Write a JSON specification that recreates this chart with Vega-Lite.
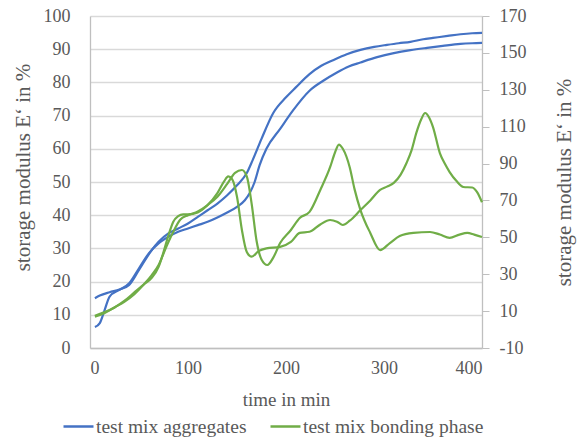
{
  "$schema": "https://vega.github.io/schema/vega-lite/v6.json",
  "width": 392,
  "height": 332,
  "autosize": {"type": "none"},
  "padding": {"left": 90, "top": 16, "right": 96, "bottom": 93},
  "config": {
    "view": {"stroke": null},
    "font": "Liberation Serif",
    "axis": {
      "labelFont": "Liberation Serif",
      "titleFont": "Liberation Serif",
      "labelFontSize": 18,
      "titleFontSize": 19,
      "labelColor": "#595959",
      "titleColor": "#595959",
      "titleFontWeight": "normal",
      "gridColor": "#D9D9D9",
      "gridWidth": 1.3,
      "domainColor": "#BFBFBF",
      "domainWidth": 1.3,
      "tickColor": "#BFBFBF"
    },
    "legend": {
      "labelFont": "Liberation Serif",
      "labelFontSize": 19.5,
      "labelColor": "#595959",
      "labelLimit": 400
    }
  },
  "datasets": {
    "agg": [
      {"t": 5, "v": 15, "mix": "test mix aggregates", "run": 1},
      {"t": 10, "v": 15.8, "mix": "test mix aggregates", "run": 1},
      {"t": 20, "v": 16.8, "mix": "test mix aggregates", "run": 1},
      {"t": 30, "v": 17.6, "mix": "test mix aggregates", "run": 1},
      {"t": 40, "v": 19, "mix": "test mix aggregates", "run": 1},
      {"t": 50, "v": 23.5, "mix": "test mix aggregates", "run": 1},
      {"t": 63, "v": 29.5, "mix": "test mix aggregates", "run": 1},
      {"t": 70, "v": 32, "mix": "test mix aggregates", "run": 1},
      {"t": 80, "v": 34.5, "mix": "test mix aggregates", "run": 1},
      {"t": 90, "v": 36, "mix": "test mix aggregates", "run": 1},
      {"t": 100, "v": 37.5, "mix": "test mix aggregates", "run": 1},
      {"t": 110, "v": 39.5, "mix": "test mix aggregates", "run": 1},
      {"t": 120, "v": 41.5, "mix": "test mix aggregates", "run": 1},
      {"t": 130, "v": 43.5, "mix": "test mix aggregates", "run": 1},
      {"t": 140, "v": 46, "mix": "test mix aggregates", "run": 1},
      {"t": 150, "v": 49, "mix": "test mix aggregates", "run": 1},
      {"t": 160, "v": 52.7, "mix": "test mix aggregates", "run": 1},
      {"t": 166, "v": 56.6, "mix": "test mix aggregates", "run": 1},
      {"t": 175, "v": 63, "mix": "test mix aggregates", "run": 1},
      {"t": 187, "v": 70.8, "mix": "test mix aggregates", "run": 1},
      {"t": 200, "v": 75.5, "mix": "test mix aggregates", "run": 1},
      {"t": 210, "v": 78.5, "mix": "test mix aggregates", "run": 1},
      {"t": 224, "v": 82.5, "mix": "test mix aggregates", "run": 1},
      {"t": 236, "v": 85, "mix": "test mix aggregates", "run": 1},
      {"t": 248, "v": 86.7, "mix": "test mix aggregates", "run": 1},
      {"t": 262, "v": 88.5, "mix": "test mix aggregates", "run": 1},
      {"t": 276, "v": 89.8, "mix": "test mix aggregates", "run": 1},
      {"t": 290, "v": 90.7, "mix": "test mix aggregates", "run": 1},
      {"t": 303, "v": 91.3, "mix": "test mix aggregates", "run": 1},
      {"t": 315, "v": 91.8, "mix": "test mix aggregates", "run": 1},
      {"t": 327, "v": 92.2, "mix": "test mix aggregates", "run": 1},
      {"t": 340, "v": 93, "mix": "test mix aggregates", "run": 1},
      {"t": 350, "v": 93.4, "mix": "test mix aggregates", "run": 1},
      {"t": 365, "v": 94, "mix": "test mix aggregates", "run": 1},
      {"t": 378, "v": 94.5, "mix": "test mix aggregates", "run": 1},
      {"t": 390, "v": 94.8, "mix": "test mix aggregates", "run": 1},
      {"t": 400, "v": 94.9, "mix": "test mix aggregates", "run": 1},
      {"t": 5, "v": 6.3, "mix": "test mix aggregates", "run": 2},
      {"t": 10, "v": 7.5, "mix": "test mix aggregates", "run": 2},
      {"t": 15, "v": 11.5, "mix": "test mix aggregates", "run": 2},
      {"t": 20, "v": 15.5, "mix": "test mix aggregates", "run": 2},
      {"t": 30, "v": 17.5, "mix": "test mix aggregates", "run": 2},
      {"t": 40, "v": 19.5, "mix": "test mix aggregates", "run": 2},
      {"t": 50, "v": 24, "mix": "test mix aggregates", "run": 2},
      {"t": 60, "v": 28.5, "mix": "test mix aggregates", "run": 2},
      {"t": 70, "v": 31.5, "mix": "test mix aggregates", "run": 2},
      {"t": 80, "v": 33.5, "mix": "test mix aggregates", "run": 2},
      {"t": 90, "v": 35, "mix": "test mix aggregates", "run": 2},
      {"t": 100, "v": 36, "mix": "test mix aggregates", "run": 2},
      {"t": 110, "v": 37, "mix": "test mix aggregates", "run": 2},
      {"t": 120, "v": 38, "mix": "test mix aggregates", "run": 2},
      {"t": 130, "v": 39.3, "mix": "test mix aggregates", "run": 2},
      {"t": 140, "v": 40.8, "mix": "test mix aggregates", "run": 2},
      {"t": 150, "v": 42.5, "mix": "test mix aggregates", "run": 2},
      {"t": 158, "v": 44.5, "mix": "test mix aggregates", "run": 2},
      {"t": 163, "v": 46.7, "mix": "test mix aggregates", "run": 2},
      {"t": 168, "v": 50, "mix": "test mix aggregates", "run": 2},
      {"t": 173, "v": 55, "mix": "test mix aggregates", "run": 2},
      {"t": 180, "v": 60, "mix": "test mix aggregates", "run": 2},
      {"t": 194, "v": 66, "mix": "test mix aggregates", "run": 2},
      {"t": 207, "v": 71.5, "mix": "test mix aggregates", "run": 2},
      {"t": 224, "v": 77.5, "mix": "test mix aggregates", "run": 2},
      {"t": 238, "v": 80.5, "mix": "test mix aggregates", "run": 2},
      {"t": 252, "v": 83, "mix": "test mix aggregates", "run": 2},
      {"t": 264, "v": 84.8, "mix": "test mix aggregates", "run": 2},
      {"t": 276, "v": 86, "mix": "test mix aggregates", "run": 2},
      {"t": 293, "v": 87.6, "mix": "test mix aggregates", "run": 2},
      {"t": 310, "v": 88.8, "mix": "test mix aggregates", "run": 2},
      {"t": 327, "v": 89.7, "mix": "test mix aggregates", "run": 2},
      {"t": 344, "v": 90.4, "mix": "test mix aggregates", "run": 2},
      {"t": 360, "v": 91, "mix": "test mix aggregates", "run": 2},
      {"t": 378, "v": 91.6, "mix": "test mix aggregates", "run": 2},
      {"t": 390, "v": 91.8, "mix": "test mix aggregates", "run": 2},
      {"t": 400, "v": 91.9, "mix": "test mix aggregates", "run": 2}
    ],
    "bond": [
      {"t": 5, "v": 7.5, "mix": "test mix bonding phase", "run": 1},
      {"t": 15, "v": 9.5, "mix": "test mix bonding phase", "run": 1},
      {"t": 25, "v": 12, "mix": "test mix bonding phase", "run": 1},
      {"t": 35, "v": 15.5, "mix": "test mix bonding phase", "run": 1},
      {"t": 45, "v": 20, "mix": "test mix bonding phase", "run": 1},
      {"t": 55, "v": 24.5, "mix": "test mix bonding phase", "run": 1},
      {"t": 63, "v": 28, "mix": "test mix bonding phase", "run": 1},
      {"t": 70, "v": 34, "mix": "test mix bonding phase", "run": 1},
      {"t": 75, "v": 42, "mix": "test mix bonding phase", "run": 1},
      {"t": 80, "v": 51, "mix": "test mix bonding phase", "run": 1},
      {"t": 85, "v": 58.5, "mix": "test mix bonding phase", "run": 1},
      {"t": 90, "v": 61.5, "mix": "test mix bonding phase", "run": 1},
      {"t": 95, "v": 62.5, "mix": "test mix bonding phase", "run": 1},
      {"t": 100, "v": 62.5, "mix": "test mix bonding phase", "run": 1},
      {"t": 110, "v": 63.5, "mix": "test mix bonding phase", "run": 1},
      {"t": 120, "v": 67.5, "mix": "test mix bonding phase", "run": 1},
      {"t": 130, "v": 74, "mix": "test mix bonding phase", "run": 1},
      {"t": 137, "v": 80.5, "mix": "test mix bonding phase", "run": 1},
      {"t": 141, "v": 83, "mix": "test mix bonding phase", "run": 1},
      {"t": 145, "v": 81.5, "mix": "test mix bonding phase", "run": 1},
      {"t": 150, "v": 72, "mix": "test mix bonding phase", "run": 1},
      {"t": 155, "v": 54, "mix": "test mix bonding phase", "run": 1},
      {"t": 160, "v": 42, "mix": "test mix bonding phase", "run": 1},
      {"t": 165, "v": 39.5, "mix": "test mix bonding phase", "run": 1},
      {"t": 172, "v": 42.5, "mix": "test mix bonding phase", "run": 1},
      {"t": 180, "v": 44, "mix": "test mix bonding phase", "run": 1},
      {"t": 194, "v": 44.8, "mix": "test mix bonding phase", "run": 1},
      {"t": 205, "v": 47.5, "mix": "test mix bonding phase", "run": 1},
      {"t": 214, "v": 52.4, "mix": "test mix bonding phase", "run": 1},
      {"t": 224, "v": 53, "mix": "test mix bonding phase", "run": 1},
      {"t": 235, "v": 57, "mix": "test mix bonding phase", "run": 1},
      {"t": 245, "v": 59.4, "mix": "test mix bonding phase", "run": 1},
      {"t": 252, "v": 58.5, "mix": "test mix bonding phase", "run": 1},
      {"t": 258, "v": 56.7, "mix": "test mix bonding phase", "run": 1},
      {"t": 265, "v": 59, "mix": "test mix bonding phase", "run": 1},
      {"t": 276, "v": 64.8, "mix": "test mix bonding phase", "run": 1},
      {"t": 286, "v": 70, "mix": "test mix bonding phase", "run": 1},
      {"t": 296, "v": 75.7, "mix": "test mix bonding phase", "run": 1},
      {"t": 303, "v": 77.5, "mix": "test mix bonding phase", "run": 1},
      {"t": 310, "v": 79.5, "mix": "test mix bonding phase", "run": 1},
      {"t": 317, "v": 84, "mix": "test mix bonding phase", "run": 1},
      {"t": 323, "v": 90.3, "mix": "test mix bonding phase", "run": 1},
      {"t": 328, "v": 97, "mix": "test mix bonding phase", "run": 1},
      {"t": 333, "v": 106.6, "mix": "test mix bonding phase", "run": 1},
      {"t": 338, "v": 114, "mix": "test mix bonding phase", "run": 1},
      {"t": 342, "v": 117.4, "mix": "test mix bonding phase", "run": 1},
      {"t": 346, "v": 115, "mix": "test mix bonding phase", "run": 1},
      {"t": 350, "v": 109.8, "mix": "test mix bonding phase", "run": 1},
      {"t": 357, "v": 95.7, "mix": "test mix bonding phase", "run": 1},
      {"t": 362, "v": 90, "mix": "test mix bonding phase", "run": 1},
      {"t": 367, "v": 85.4, "mix": "test mix bonding phase", "run": 1},
      {"t": 374, "v": 80.5, "mix": "test mix bonding phase", "run": 1},
      {"t": 381, "v": 77.3, "mix": "test mix bonding phase", "run": 1},
      {"t": 390, "v": 77, "mix": "test mix bonding phase", "run": 1},
      {"t": 395, "v": 74.5, "mix": "test mix bonding phase", "run": 1},
      {"t": 400, "v": 69, "mix": "test mix bonding phase", "run": 1},
      {"t": 5, "v": 7, "mix": "test mix bonding phase", "run": 2},
      {"t": 15, "v": 9, "mix": "test mix bonding phase", "run": 2},
      {"t": 25, "v": 12, "mix": "test mix bonding phase", "run": 2},
      {"t": 35, "v": 15, "mix": "test mix bonding phase", "run": 2},
      {"t": 45, "v": 19, "mix": "test mix bonding phase", "run": 2},
      {"t": 55, "v": 24.5, "mix": "test mix bonding phase", "run": 2},
      {"t": 63, "v": 29.5, "mix": "test mix bonding phase", "run": 2},
      {"t": 70, "v": 35, "mix": "test mix bonding phase", "run": 2},
      {"t": 78, "v": 45, "mix": "test mix bonding phase", "run": 2},
      {"t": 85, "v": 53, "mix": "test mix bonding phase", "run": 2},
      {"t": 92, "v": 59.5, "mix": "test mix bonding phase", "run": 2},
      {"t": 100, "v": 62, "mix": "test mix bonding phase", "run": 2},
      {"t": 110, "v": 64, "mix": "test mix bonding phase", "run": 2},
      {"t": 120, "v": 67.5, "mix": "test mix bonding phase", "run": 2},
      {"t": 130, "v": 72, "mix": "test mix bonding phase", "run": 2},
      {"t": 140, "v": 79, "mix": "test mix bonding phase", "run": 2},
      {"t": 148, "v": 85, "mix": "test mix bonding phase", "run": 2},
      {"t": 155, "v": 86.5, "mix": "test mix bonding phase", "run": 2},
      {"t": 160, "v": 83, "mix": "test mix bonding phase", "run": 2},
      {"t": 165, "v": 68, "mix": "test mix bonding phase", "run": 2},
      {"t": 170, "v": 48, "mix": "test mix bonding phase", "run": 2},
      {"t": 175, "v": 38, "mix": "test mix bonding phase", "run": 2},
      {"t": 181, "v": 35, "mix": "test mix bonding phase", "run": 2},
      {"t": 187, "v": 39, "mix": "test mix bonding phase", "run": 2},
      {"t": 194, "v": 46.9, "mix": "test mix bonding phase", "run": 2},
      {"t": 205, "v": 54, "mix": "test mix bonding phase", "run": 2},
      {"t": 214, "v": 60.5, "mix": "test mix bonding phase", "run": 2},
      {"t": 224, "v": 63.8, "mix": "test mix bonding phase", "run": 2},
      {"t": 235, "v": 75.7, "mix": "test mix bonding phase", "run": 2},
      {"t": 245, "v": 88, "mix": "test mix bonding phase", "run": 2},
      {"t": 250, "v": 96, "mix": "test mix bonding phase", "run": 2},
      {"t": 254, "v": 100.3, "mix": "test mix bonding phase", "run": 2},
      {"t": 258, "v": 98, "mix": "test mix bonding phase", "run": 2},
      {"t": 265, "v": 88, "mix": "test mix bonding phase", "run": 2},
      {"t": 270, "v": 76, "mix": "test mix bonding phase", "run": 2},
      {"t": 276, "v": 64.8, "mix": "test mix bonding phase", "run": 2},
      {"t": 286, "v": 52.4, "mix": "test mix bonding phase", "run": 2},
      {"t": 296, "v": 43.1, "mix": "test mix bonding phase", "run": 2},
      {"t": 306, "v": 46.9, "mix": "test mix bonding phase", "run": 2},
      {"t": 316, "v": 50.7, "mix": "test mix bonding phase", "run": 2},
      {"t": 330, "v": 52.4, "mix": "test mix bonding phase", "run": 2},
      {"t": 347, "v": 52.9, "mix": "test mix bonding phase", "run": 2},
      {"t": 357, "v": 51.5, "mix": "test mix bonding phase", "run": 2},
      {"t": 367, "v": 49.7, "mix": "test mix bonding phase", "run": 2},
      {"t": 377, "v": 51.5, "mix": "test mix bonding phase", "run": 2},
      {"t": 385, "v": 52.4, "mix": "test mix bonding phase", "run": 2},
      {"t": 392, "v": 51.5, "mix": "test mix bonding phase", "run": 2},
      {"t": 400, "v": 50.2, "mix": "test mix bonding phase", "run": 2}
    ]
  },
  "encoding": {
    "x": {
      "field": "t",
      "type": "quantitative",
      "scale": {"domain": [0, 400], "nice": false},
      "axis": {
        "title": "time in min",
        "values": [0, 100, 200, 300, 400],
        "grid": false,
        "ticks": false,
        "labelFont": "Liberation Serif",
        "labelFontSize": 18,
        "labelPadding": 11,
        "titlePadding": 13
      }
    },
    "color": {
      "field": "mix",
      "type": "nominal",
      "scale": {
        "domain": ["test mix aggregates", "test mix bonding phase"],
        "range": ["#4472C4", "#70AD47"]
      },
      "legend": {
        "title": null,
        "orient": "none",
        "legendX": -28,
        "legendY": 394,
        "direction": "horizontal",
        "symbolType": "stroke",
        "symbolSize": 900,
        "symbolStrokeWidth": 2.5,
        "labelFont": "Liberation Serif",
        "labelFontSize": 19.5,
        "labelLimit": 400,
        "labelOffset": 1,
        "columnPadding": 18
      }
    },
    "detail": {"field": "run", "type": "nominal"}
  },
  "layer": [
    {
      "data": {"name": "agg"},
      "mark": {"type": "line", "interpolate": "monotone", "strokeWidth": 2.2},
      "encoding": {
        "y": {
          "field": "v",
          "type": "quantitative",
          "scale": {"domain": [0, 100], "nice": false},
          "axis": {
            "title": "storage modulus E‘ in %",
            "orient": "left",
            "values": [0, 10, 20, 30, 40, 50, 60, 70, 80, 90, 100],
            "ticks": false,
            "labelFont": "Liberation Serif",
            "labelFontSize": 18,
            "labelPadding": 20,
            "titleFontSize": 21,
            "titlePadding": 10,
            "titleY": 151
          }
        }
      }
    },
    {
      "data": {"name": "bond"},
      "mark": {"type": "line", "interpolate": "monotone", "strokeWidth": 2.2},
      "encoding": {
        "y": {
          "field": "v",
          "type": "quantitative",
          "scale": {"domain": [-10, 170], "nice": false},
          "axis": {
            "title": "storage modulus E‘ in %",
            "orient": "right",
            "values": [-10, 10, 30, 50, 70, 90, 110, 130, 150, 170],
            "labelExpr": "replace(datum.label, '−', '-')",
            "grid": false,
            "ticks": true,
            "tickSize": 7,
            "labelFont": "Liberation Serif",
            "labelFontSize": 18,
            "labelPadding": 10,
            "titleFontSize": 21,
            "titleAngle": -90,
            "titlePadding": 48
          }
        }
      }
    }
  ],
  "resolve": {"scale": {"y": "independent"}}
}
